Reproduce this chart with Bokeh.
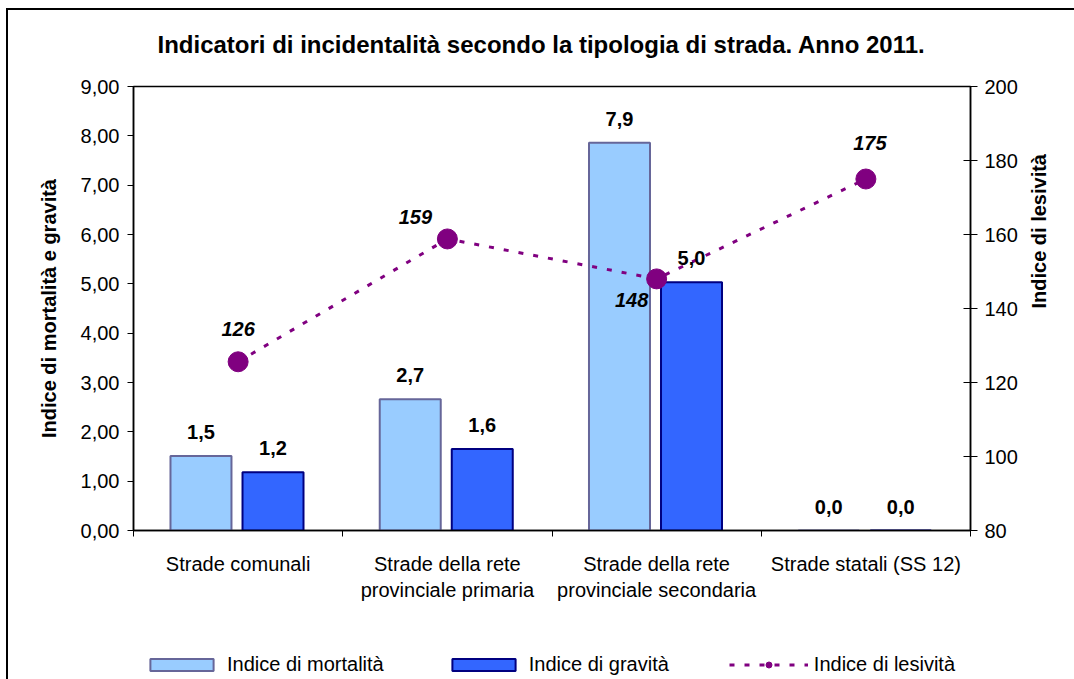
import math
from bokeh.plotting import figure
from bokeh.layouts import column
from bokeh.models import (ColumnDataSource, Range1d, LinearAxis, FixedTicker,
                          CustomJSTickFormatter, LabelSet, Legend, LegendItem)
from bokeh.core.properties import value
from bokeh.embed import file_html
from bokeh.resources import INLINE

# ---- data ----
categories = ["Strade comunali",
              "Strade della rete\nprovinciale primaria",
              "Strade della rete\nprovinciale secondaria",
              "Strade statali (SS 12)"]
mortalita = [1.51, 2.66, 7.86, 0.0]
gravita = [1.18, 1.65, 5.03, 0.0]
lesivita = [125.6, 158.8, 148.0, 175.0]
left_ticks = [0, 1, 2, 3, 4, 5, 6, 7, 8, 9]
right_ticks = [80, 100, 120, 140, 160, 180, 200]
series_names = ["Indice di mortalità", "Indice di gravità", "Indice di lesività"]

# ---- styling ----
FONT = "Liberation Sans"
FS = "20px"
LIGHT_FILL, LIGHT_LINE = "#99CCFF", "#666699"
DARK_FILL, DARK_LINE = "#3366FF", "#000080"
PURPLE = "#800080"
les_label_dx = [0, -32, -25, 4]
les_label_dy = [33, 22, -21, 36]
W, H_MAIN, H_LEG = 1074, 620, 59

idx = list(range(len(categories)))
xc = [i + 0.5 for i in idx]

def fmt1(v):
    return f"{v:.1f}".replace(".", ",")

src = ColumnDataSource(dict(
    xc=xc,
    x_m=[x - 0.1775 for x in xc],
    x_g=[x + 0.1667 for x in xc],
    mort=mortalita, grav=gravita, les=lesivita,
    mort_t=[fmt1(v) for v in mortalita],
    grav_t=[fmt1(v) for v in gravita],
    les_t=[f"{v:.0f}" for v in lesivita],
    dx=les_label_dx, dy=les_label_dy,
))

p = figure(width=W, height=H_MAIN, output_backend="svg", toolbar_location=None,
           x_range=Range1d(0, len(categories)), y_range=Range1d(0, 9),
           min_border_left=133, min_border_right=104, min_border_top=84,
           min_border_bottom=H_MAIN - 530,
           title="Indicatori di incidentalità secondo la tipologia di strada. Anno 2011.")
p.border_fill_color = None
p.background_fill_color = "white"
p.styles = {
    "background-color": "white",
    "background-image": "linear-gradient(black, black), linear-gradient(black, black)",
    "background-size": "calc(100% - 7px) 2px, 2px calc(100% - 8px)",
    "background-position": "7px 8px, 6px 8px",
    "background-repeat": "no-repeat",
}
p.title.align = "left"
p.title.offset = 24
p.title.text_font = FONT
p.title.text_font_size = "24px"
p.title.text_font_style = "bold"
p.title.text_color = "black"
p.title.standoff = 57
p.extra_y_ranges = {"les": Range1d(80, 200)}

p.xgrid.visible = False
p.ygrid.visible = False
p.outline_line_color = "black"
p.outline_line_width = 1.5

bar_m = p.vbar(x="x_m", top="mort", width=0.2915, source=src,
               fill_color=LIGHT_FILL, line_color=LIGHT_LINE, line_width=2)
bar_g = p.vbar(x="x_g", top="grav", width=0.2915, source=src,
               fill_color=DARK_FILL, line_color=DARK_LINE, line_width=2)
line = p.line(x="xc", y="les", source=src, y_range_name="les",
              line_color=PURPLE, line_width=3, line_dash="5 10")
pts = p.scatter(x="xc", y="les", source=src, y_range_name="les",
                size=20, fill_color=PURPLE, line_color=PURPLE)

# value labels
for xcol, ycol, tcol in [("x_m", "mort", "mort_t"), ("x_g", "grav", "grav_t")]:
    p.add_layout(LabelSet(x=xcol, y=ycol, text=tcol, source=src, y_offset=24,
                          text_align="center", text_baseline="middle",
                          text_font=value(FONT), text_font_size=FS,
                          text_font_style="bold", text_color="black"))
p.add_layout(LabelSet(x="xc", y="les", text="les_t", source=src, y_range_name="les",
                      x_offset="dx", y_offset="dy",
                      text_align="center", text_baseline="middle",
                      text_font=value(FONT), text_font_size=FS,
                      text_font_style="bold italic", text_color="black"))

# axes
xa = p.xaxis[0]
xa.ticker = FixedTicker(ticks=xc, minor_ticks=[0] + [i + 1 for i in idx])
xa.major_label_overrides = {x: c for x, c in zip(xc, categories)}
xa.major_tick_line_color = None
xa.major_tick_out = 6
xa.minor_tick_out = 6
xa.minor_tick_in = 0
xa.minor_tick_line_color = "black"
xa.major_label_standoff = 16

ya = p.yaxis[0]
ya.ticker = FixedTicker(ticks=left_ticks)
ya.formatter = CustomJSTickFormatter(code="return tick.toFixed(2).replace('.', ',')")
ya.axis_label = "Indice di mortalità e gravità"
ya.major_tick_out = 6
ya.major_tick_in = 0
ya.minor_tick_line_color = None
ya.major_label_standoff = 8
ya.axis_label_standoff = 18

ra = LinearAxis(y_range_name="les", ticker=FixedTicker(ticks=right_ticks),
                axis_label="Indice di lesività")
ra.major_tick_out = 7
ra.major_tick_in = 7
ra.minor_tick_line_color = None
ra.major_label_standoff = 7
ra.axis_label_standoff = 18
try:
    ra.axis_label_orientation = math.pi / 2
except Exception:
    pass
p.add_layout(ra, "right")

for ax in [xa, ya, ra]:
    ax.major_label_text_font = FONT
    ax.major_label_text_font_size = FS
    ax.major_label_text_color = "black"
    ax.axis_label_text_font = FONT
    ax.axis_label_text_font_size = FS
    ax.axis_label_text_font_style = "bold"
    ax.axis_label_text_color = "black"
    ax.axis_line_color = "black"
    ax.axis_line_width = 1.5

# ---- legend strip below the chart ----
pl = figure(width=W, height=H_LEG, output_backend="svg", toolbar_location=None,
            x_range=Range1d(0, 1), y_range=Range1d(0, 1),
            x_axis_location=None, y_axis_location=None,
            min_border_left=0, min_border_right=0, min_border_top=0, min_border_bottom=0)
pl.border_fill_color = None
pl.background_fill_color = None
pl.outline_line_color = None
pl.xgrid.visible = False
pl.ygrid.visible = False
pl.styles = {
    "background-color": "white",
    "background-image": "linear-gradient(black, black)",
    "background-size": "2px 100%",
    "background-position": "6px 0px",
    "background-repeat": "no-repeat",
}
# hidden renderers (same data, same styles) used only to draw the legend swatches
lg_m = pl.vbar(x="x_m", top="mort", width=0.2915, source=src, visible=False,
               fill_color=LIGHT_FILL, line_color=LIGHT_LINE, line_width=2)
lg_g = pl.vbar(x="x_g", top="grav", width=0.2915, source=src, visible=False,
               fill_color=DARK_FILL, line_color=DARK_LINE, line_width=2)
lg_l = pl.line(x="xc", y="les", source=src, visible=False,
               line_color=PURPLE, line_width=3, line_dash="5 10")
lg_p = pl.scatter(x="xc", y="les", source=src, visible=False, size=20,
                  fill_color=PURPLE, line_color=PURPLE)

legend = Legend(items=[
    LegendItem(label=series_names[0], renderers=[lg_m]),
    LegendItem(label=series_names[1], renderers=[lg_g]),
    LegendItem(label=series_names[2], renderers=[lg_l, lg_p]),
], location=(9, 3), orientation="horizontal", glyph_width=79, glyph_height=15,
    spacing=60, label_standoff=6, padding=0, margin=0, click_policy="none",
    border_line_color=None, background_fill_alpha=0,
    inactive_fill_alpha=0,
    label_text_font=FONT, label_text_font_size=FS, label_text_color="black")
pl.add_layout(legend, "center")

layout = column(p, pl, spacing=0)
open("out.html", "w").write(file_html(layout, INLINE))
